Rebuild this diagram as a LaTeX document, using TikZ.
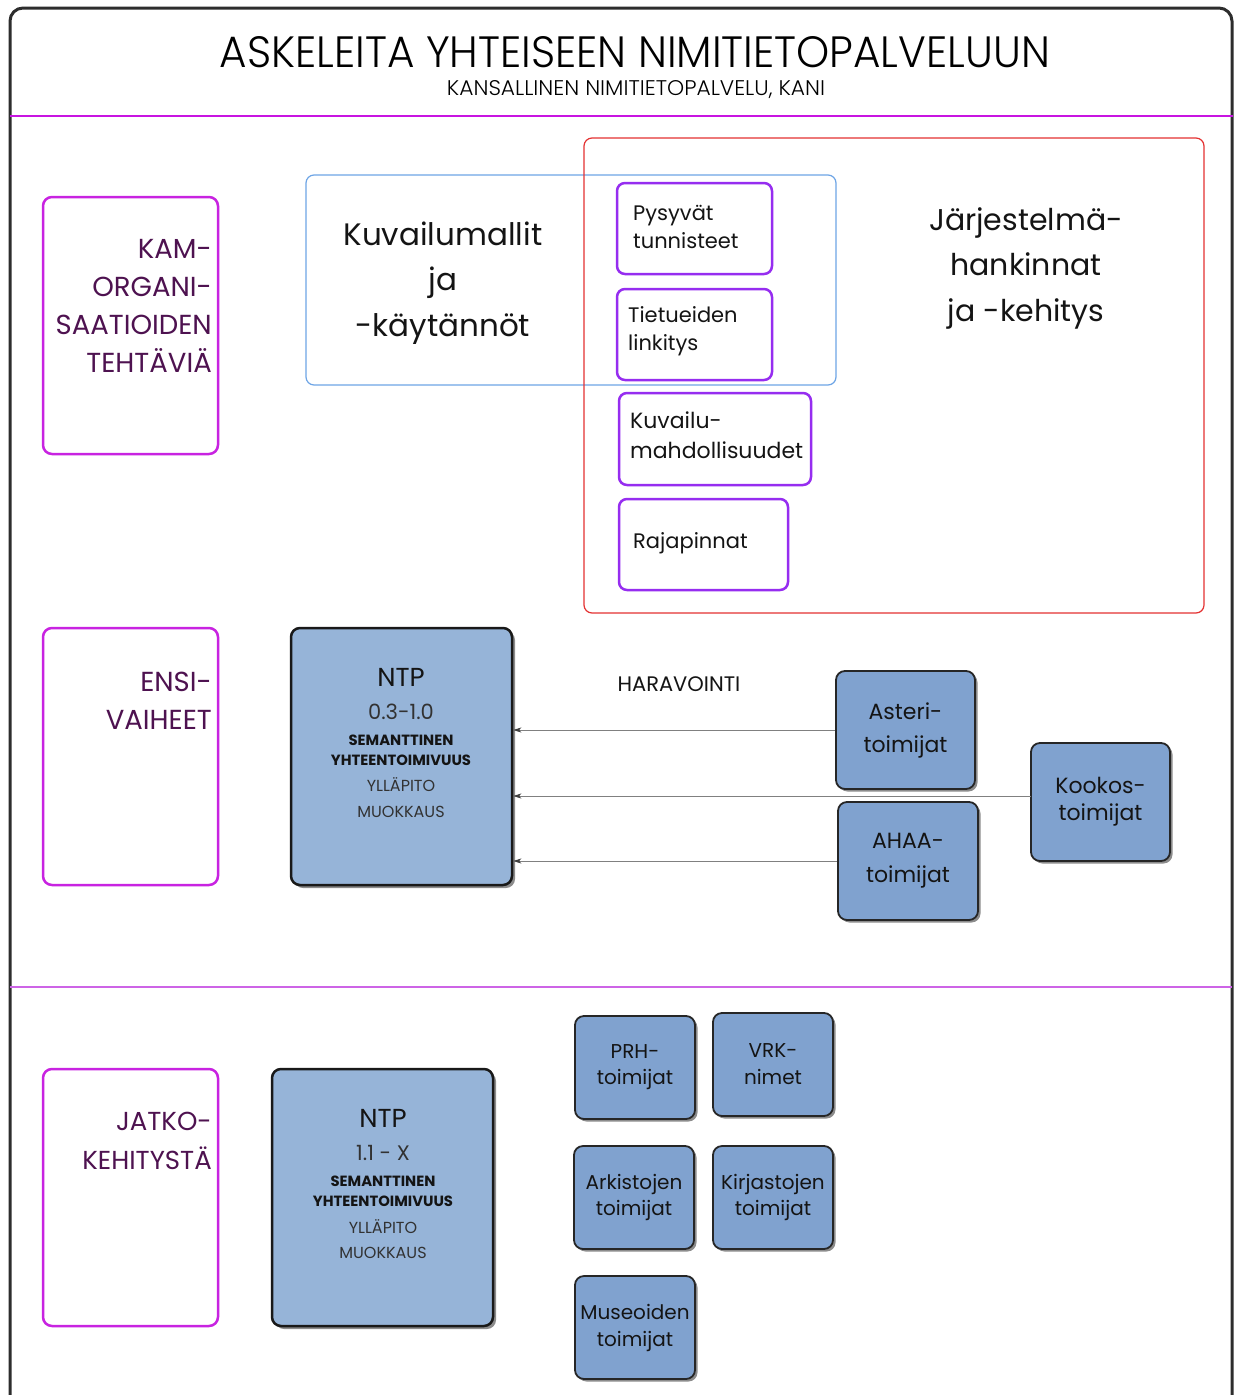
\documentclass[tikz,border=0pt]{standalone}
\usepackage{graphicx}
\usepackage{fontspec}
\setmainfont{Poppins}
\newfontfamily\lightfont{Poppins Light}
\usetikzlibrary{shadows,arrows.meta}
\definecolor{framec}{RGB}{45,45,45}
\definecolor{magline}{RGB}{200,20,225}
\definecolor{magline2}{RGB}{205,100,230}
\definecolor{lboxc}{RGB}{200,35,225}
\definecolor{labc}{RGB}{78,18,80}
\definecolor{violc}{RGB}{150,45,240}
\definecolor{bluec}{RGB}{110,165,230}
\definecolor{redc}{RGB}{228,50,50}
\definecolor{ntpfill}{RGB}{150,180,216}
\definecolor{smfill}{RGB}{128,162,207}
\definecolor{txtc}{RGB}{20,20,20}
\definecolor{grayt}{RGB}{50,50,50}
\newcommand\myfs[2]{\fontsize{#1}{#2}\selectfont}
\begin{document}
\begin{tikzpicture}[x=1pt,y=-1pt,
  lbox/.style={draw=lboxc,line width=2.5pt,rounded corners=9pt},
  lab/.style={text=labc,align=right,inner sep=0pt,font=\myfs{27.5}{38}},
  vbox/.style={draw=violc,line width=2.5pt,rounded corners=8pt},
  vtext/.style={text=txtc,align=left,inner sep=0pt,anchor=west,font=\myfs{21}{28}},
  bigt/.style={text=txtc,align=center,inner sep=0pt,font=\myfs{31}{45.5}},
  ntpbox/.style={draw=black!90,line width=2.5pt,fill=ntpfill,rounded corners=9pt,
     drop shadow={shadow xshift=3pt,shadow yshift=-3pt,fill=black,opacity=0.45}},
  smbox/.style={draw=black!85,line width=1.8pt,fill=smfill,rounded corners=9pt,
     align=center,text=txtc,inner sep=0pt,
     drop shadow={shadow xshift=2.5pt,shadow yshift=-2.5pt,fill=black,opacity=0.45}},
  arr/.style={draw=black!50,line width=0.9pt,-{Stealth[length=8pt,width=5pt,inset=2pt,color=black!75]}}
]
\useasboundingbox (0,0) rectangle (1240,1395);
\fill[white] (0,0) rectangle (1240,1395);
% outer frame
\draw[framec,line width=3pt,rounded corners=13pt] (10,8) rectangle (1232,1430);
% title
\node[inner sep=0pt,text=black] (title) at (635,52)
  {\resizebox{830pt}{31pt}{\lightfont\myfs{40}{40}ASKELEITA YHTEISEEN NIMITIETOPALVELUUN}};
\node[inner sep=0pt,text=black] (subtitle) at (636,90)
  {\resizebox{378pt}{15pt}{\lightfont\myfs{20}{20}KANSALLINEN NIMITIETOPALVELU, KANI}};
% separator lines
\coordinate (l1a) at (10,116); \coordinate (l1b) at (1233,116);
\draw[magline,line width=1.8pt] (l1a) -- (l1b);
\coordinate (l2a) at (10,987); \coordinate (l2b) at (1232,987);
\draw[magline2,line width=2.2pt] (l2a) -- (l2b);
% left boxes
\node[lbox,minimum width=175pt,minimum height=257pt] (kambox) at (130.5,325.5) {};
\node[lab,anchor=east] (kamtext) at (212,306) {KAM-\\ORGANI-\\SAATIOIDEN\\TEHTÄVIÄ};
\node[lbox,minimum width=175pt,minimum height=257pt] (ensibox) at (130.5,756.5) {};
\node[lab,anchor=east] (ensitext) at (212,700.5) {ENSI-\\VAIHEET};
\node[lbox,minimum width=175pt,minimum height=257pt] (jatkobox) at (130.5,1197.5) {};
\node[lab,anchor=east,font=\myfs{26}{39}] (jatkotext) at (212,1141) {JATKO-\\KEHITYSTÄ};
% blue and red frames
\node[draw=bluec,line width=1.2pt,rounded corners=8pt,minimum width=530pt,minimum height=210pt] (bluebox) at (571,280) {};
\node[bigt] (kuvtext) at (443,283) {Kuvailumallit\\ja\\-käytännöt};
\node[draw=redc,line width=1.2pt,rounded corners=8pt,minimum width=620pt,minimum height=475pt] (redbox) at (894,375.5) {};
\node[bigt,font=\myfs{30}{45.5}] (jartext) at (1026,268) {Järjestelmä-\\hankinnat\\ja -kehitys};
% violet boxes
\node[vbox,minimum width=155pt,minimum height=91pt] (pysbox) at (694.5,228.5) {};
\node[vtext] (pystext) at (633,227) {Pysyvät\\tunnisteet};
\node[vbox,minimum width=155pt,minimum height=91pt] (tietbox) at (694.5,334.5) {};
\node[vtext] (tiettext) at (628,331) {Tietueiden\\linkitys};
\node[vbox,minimum width=192pt,minimum height=92pt] (kuvbox) at (715,439) {};
\node[vtext,font=\myfs{22}{30}] (kuvbtext) at (630,435) {Kuvailu-\\mahdollisuudet};
\node[vbox,minimum width=169pt,minimum height=91pt] (rajbox) at (703.5,544.5) {};
\node[vtext] (rajtext) at (633,543) {Rajapinnat};
% NTP 1
\node[ntpbox,minimum width=221pt,minimum height=257pt] (ntpa) at (401.5,756.5) {};
\node[inner sep=0pt,text=txtc,font=\myfs{26}{26}] (ntpat) at (401,677) {NTP};
\node[inner sep=0pt,text=grayt,font=\myfs{21}{21}] (ntpav) at (401,712) {0.3-1.0};
\node[inner sep=0pt,text=txtc,align=center,font=\bfseries\myfs{14.8}{20}] (ntpas) at (401,750) {SEMANTTINEN\\YHTEENTOIMIVUUS};
\node[inner sep=0pt,text=grayt,align=center,font=\myfs{16}{25.5}] (ntpay) at (401,797.5) {YLLÄPITO\\MUOKKAUS};
% NTP 2
\node[ntpbox,minimum width=221pt,minimum height=257pt] (ntpb) at (382.5,1197.5) {};
\node[inner sep=0pt,text=txtc,font=\myfs{26}{26}] (ntpbt) at (383,1118) {NTP};
\node[inner sep=0pt,text=grayt,font=\myfs{21}{21}] (ntpbv) at (383,1153) {1.1 - X};
\node[inner sep=0pt,text=txtc,align=center,font=\bfseries\myfs{14.8}{20}] (ntpbs) at (383,1191) {SEMANTTINEN\\YHTEENTOIMIVUUS};
\node[inner sep=0pt,text=grayt,align=center,font=\myfs{16}{25.5}] (ntpby) at (383,1239) {YLLÄPITO\\MUOKKAUS};
% harvest sources
\node[inner sep=0pt,text=txtc,font=\myfs{21}{21}] (harav) at (679,684) {HARAVOINTI};
\node[smbox,minimum width=139pt,minimum height=118pt,font=\myfs{22}{33}] (aster) at (905.5,730) {Asteri-\\toimijat};
\node[smbox,minimum width=140pt,minimum height=118pt,font=\myfs{22}{34}] (ahaa) at (908,861) {AHAA-\\toimijat};
\node[smbox,minimum width=139pt,minimum height=118pt,font=\myfs{22}{27}] (kookos) at (1100.5,802) {Kookos-\\toimijat};
\coordinate (kookin) at (1031,796);
\draw[arr] (aster.west) -- (aster.west -| ntpa.east);
\draw[arr] (kookin) -- (kookin -| ntpa.east);
\draw[arr] (ahaa.west) -- (ahaa.west -| ntpa.east);
% later sources
\node[smbox,minimum width=120pt,minimum height=103pt,font=\myfs{20}{26}] (prh) at (635,1067.5) {PRH-\\toimijat};
\node[smbox,minimum width=120pt,minimum height=103pt,font=\myfs{20}{27}] (vrk) at (773,1064.5) {VRK-\\nimet};
\node[smbox,minimum width=120pt,minimum height=103pt,font=\myfs{20}{26}] (ark) at (634,1197.5) {Arkistojen\\toimijat};
\node[smbox,minimum width=120pt,minimum height=103pt,font=\myfs{20}{26}] (kirj) at (773,1197.5) {Kirjastojen\\toimijat};
\node[smbox,minimum width=120pt,minimum height=103pt,font=\myfs{20}{27}] (mus) at (635,1327.5) {Museoiden\\toimijat};
\end{tikzpicture}
\end{document}
